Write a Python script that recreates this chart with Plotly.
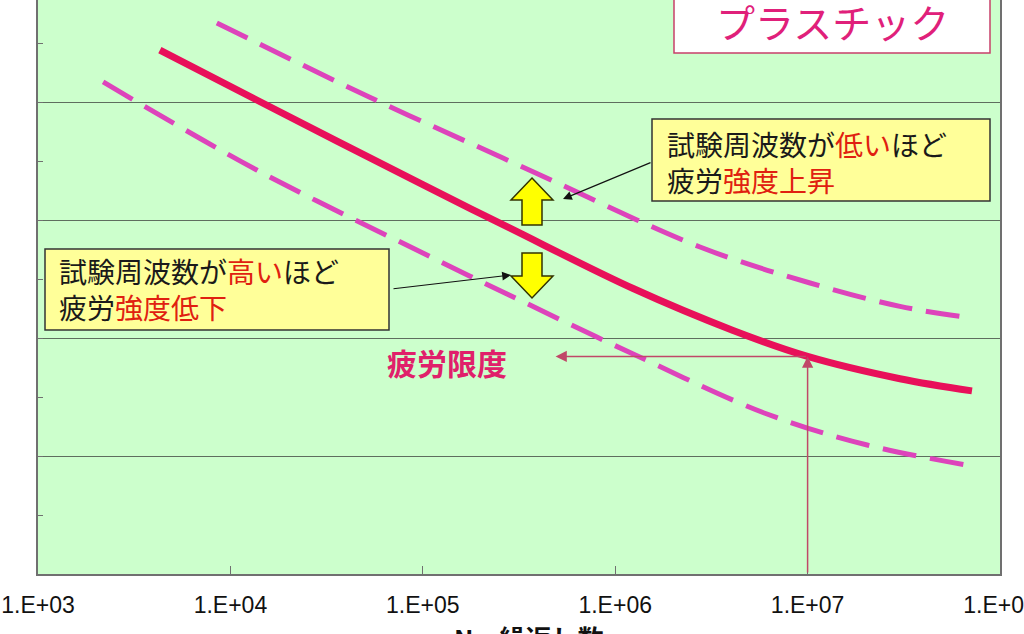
import math
import plotly.graph_objects as go

# ---------------- data ----------------
# Main S-N curve (cycles N, stress in arbitrary units)
main_N = [4.3e3, 1.37e4, 1.0e5, 2.84e5, 1.24e6, 4.1e6, 1.0e7, 3.02e7, 7.15e7]
main_S = [44.4, 40.17, 32.99, 29.31, 24.19, 20.64, 18.44, 16.55, 15.52]

# Low test-frequency curve (upper dashed)
low_freq_N = [8.5e3, 5.3e4, 2.61e5, 4.75e5, 2.76e6, 1.03e7, 3.02e7, 7.15e7]
low_freq_S = [46.7, 40.4, 35.25, 33.31, 27.71, 24.66, 22.68, 21.69]

# High test-frequency curve (lower dashed)
high_freq_N = [2.18e3, 1.37e4, 1.0e5, 2.74e5, 1.24e6, 6.15e6, 2.04e7, 7.15e7]
high_freq_S = [41.7, 34.24, 27.2, 23.73, 18.64, 13.56, 10.93, 9.15]

x_tick_vals = [1e3, 1e4, 1e5, 1e6, 1e7, 1e8]
x_tick_text = ["1.E+03", "1.E+04", "1.E+05", "1.E+06", "1.E+07", "1.E+08"]

fatigue_limit_N = 1.0e7
fatigue_arrow_end_N = 4.9e5
fatigue_limit_S = main_S[main_N.index(fatigue_limit_N)]

# ---------------- layout helpers ----------------
W, H = 1024, 634
L, R, T, B = 38, 24, 0, 60
PW, PH = W - L - R, H - T - B


def px(x):
    return (x - L) / PW


def py(y):
    return (T + PH - y) / PH


JP = "Noto Sans CJK JP"
RED = "#E02010"

fig = go.Figure()

fig.add_trace(go.Scatter(
    x=low_freq_N, y=low_freq_S, mode="lines",
    line=dict(color="#DD44BB", width=5, dash="34px,14px", shape="spline"),
    showlegend=False, hoverinfo="skip"))
fig.add_trace(go.Scatter(
    x=high_freq_N, y=high_freq_S, mode="lines",
    line=dict(color="#DD44BB", width=5, dash="34px,14px", shape="spline"),
    showlegend=False, hoverinfo="skip"))
fig.add_trace(go.Scatter(
    x=main_N, y=main_S, mode="lines",
    line=dict(color="#E8105A", width=7, shape="spline"),
    showlegend=False, hoverinfo="skip"))

shapes = []
annotations = []

# Plastic title box
shapes.append(dict(type="rect", xref="paper", yref="paper",
                   x0=px(674), x1=px(990), y0=py(53), y1=py(-20),
                   fillcolor="white", line=dict(color="#C8406A", width=1.5), layer="above"))
annotations.append(dict(xref="paper", yref="paper", x=px(832), y=py(21),
                        xanchor="center", yanchor="middle",
                        text="プラスチック", showarrow=False,
                        font=dict(family=JP, size=39, color="#E0207A")))

# Callout boxes
shapes.append(dict(type="rect", xref="paper", yref="paper",
                   x0=px(652), x1=px(990), y0=py(201), y1=py(119),
                   fillcolor="#FFFF99", line=dict(color="#333333", width=1.5), layer="above"))
shapes.append(dict(type="rect", xref="paper", yref="paper",
                   x0=px(45), x1=px(389), y0=py(330), y1=py(249),
                   fillcolor="#FFFF99", line=dict(color="#333333", width=1.5), layer="above"))

annotations.append(dict(
    xref="paper", yref="paper", x=px(665), y=py(162), xanchor="left", yanchor="middle",
    align="left", showarrow=False,
    text=("試験周波数が<span style='color:%s'>低い</span>ほど<br>"
          "疲労<span style='color:%s'>強度上昇</span>") % (RED, RED),
    font=dict(family=JP, size=28, color="#1a1a1a")))
annotations.append(dict(
    xref="paper", yref="paper", x=px(57), y=py(289), xanchor="left", yanchor="middle",
    align="left", showarrow=False,
    text=("試験周波数が<span style='color:%s'>高い</span>ほど<br>"
          "疲労<span style='color:%s'>強度低下</span>") % (RED, RED),
    font=dict(family=JP, size=28, color="#1a1a1a")))

# Callout arrows (black)
annotations.append(dict(xref="paper", yref="paper", x=px(563), y=py(199),
                        ax=89, ay=-37, text="", showarrow=True,
                        arrowhead=2, arrowsize=1.6, arrowwidth=1.1, arrowcolor="#111111"))
annotations.append(dict(xref="paper", yref="paper", x=px(511), y=py(275),
                        ax=-119, ay=14, text="", showarrow=True,
                        arrowhead=2, arrowsize=1.6, arrowwidth=1.1, arrowcolor="#111111"))

# Yellow block arrows (up / down)
def poly(points):
    return "M " + " L ".join("%f,%f" % (px(a), py(b)) for a, b in points) + " Z"

up = [(532, 178), (553, 200), (542, 200), (542, 225), (522, 225), (522, 200), (511, 200)]
down = [(522, 253), (542, 253), (542, 276), (553, 276), (532, 298), (511, 276), (522, 276)]
for p in (up, down):
    shapes.append(dict(type="path", xref="paper", yref="paper", path=poly(p),
                       fillcolor="#FFFF00", line=dict(color="#333300", width=1.5), layer="above"))

# Fatigue limit arrows
FL_COLOR = "#C04868"
annotations.append(dict(xref="x", yref="y", x=math.log10(fatigue_limit_N), y=fatigue_limit_S,
                        axref="x", ayref="y", ax=math.log10(fatigue_limit_N), ay=0,
                        text="", showarrow=True, arrowhead=2, arrowsize=1.5,
                        arrowwidth=1.5, arrowcolor=FL_COLOR))
annotations.append(dict(xref="x", yref="y", x=math.log10(fatigue_arrow_end_N), y=fatigue_limit_S,
                        axref="x", ayref="y", ax=math.log10(fatigue_limit_N), ay=fatigue_limit_S,
                        text="", showarrow=True, arrowhead=2, arrowsize=1.5,
                        arrowwidth=1.5, arrowcolor=FL_COLOR))
annotations.append(dict(xref="paper", yref="paper", x=px(447), y=py(362),
                        xanchor="center", yanchor="middle",
                        text="<b>疲労限度</b>", showarrow=False,
                        font=dict(family=JP, size=30, color="#E0206A")))

# Axis title (partially cut at the bottom edge, as in the reference)
annotations.append(dict(xref="paper", yref="paper", x=px(528), y=py(617),
                        xanchor="center", yanchor="top",
                        text="<b>N　繰返し数</b>", showarrow=False,
                        font=dict(family=JP, size=26, color="#111111")))

fig.update_layout(
    width=W, height=H,
    margin=dict(l=L, r=R, t=T, b=B, pad=0, autoexpand=False),
    paper_bgcolor="white", plot_bgcolor="#CCFFCC",
    shapes=shapes, annotations=annotations, showlegend=False,
)
fig.update_xaxes(
    type="log", range=[3, 8], tickvals=x_tick_vals, ticktext=x_tick_text,
    showgrid=False, zeroline=False, showline=True, linecolor="#707070", linewidth=1.5,
    ticks="inside", ticklen=8, tickcolor="#707070", automargin=False,
    tickfont=dict(family="Liberation Sans Narrow, Arial Narrow, Liberation Sans", size=23,
                  color="#111111"),
    ticklabelstandoff=10, ticklabeloverflow="allow",
)
fig.update_yaxes(
    range=[0, PH / 11.8], dtick=10, tick0=0, showticklabels=False,
    showgrid=True, gridcolor="#5E6E5E", gridwidth=1, zeroline=False,
    showline=True, mirror=True, linecolor="#707070", linewidth=1.5,
    ticks="inside", ticklen=5, tickcolor="#707070", automargin=False,
    minor=dict(dtick=5, ticks="inside", ticklen=5, tickcolor="#707070", showgrid=False),
)

fig.write_html("out.html", config={"displayModeBar": False},
               post_script="document.body.style.margin='0';document.body.style.overflow='hidden';")
